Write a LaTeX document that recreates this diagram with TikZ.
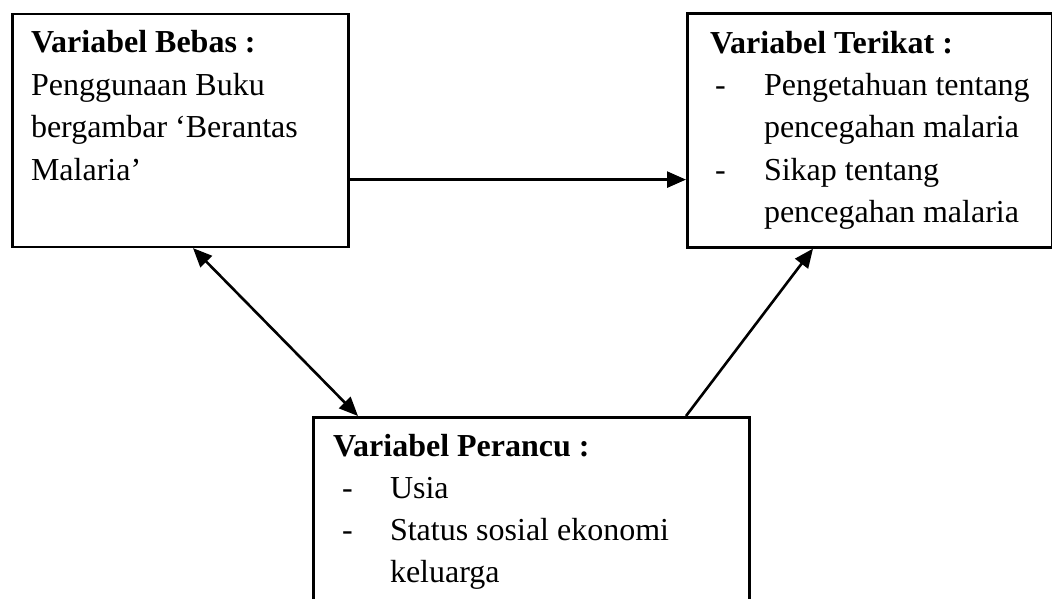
\documentclass[tikz,border=0pt]{standalone}
\usepackage{fontspec}
\setmainfont{Liberation Serif}
\usetikzlibrary{arrows.meta}
\tikzset{
  box/.style={draw=black, line width=2.6pt, fill=none, inner sep=0pt, anchor=north west},
  txt/.style={inner sep=0pt, outer sep=0pt, anchor=base west, font=\fontsize{32}{38}\selectfont},
  tip/.style={Triangle[length=19pt,width=16pt]},
  arr/.style={line width=2.6pt, -{Triangle[length=19pt,width=16pt]}},
  darr/.style={line width=2.6pt, {Triangle[length=19pt,width=16pt]}-{Triangle[length=19pt,width=16pt]}}
}
\begin{document}
\begin{tikzpicture}[x=1pt,y=-1pt]
\useasboundingbox (0,0) rectangle (1052,598);
\clip (0,0) rectangle (1052,598);
\fill[white] (0,0) rectangle (1052,598);
% boxes
\node[box, minimum width=336pt, minimum height=233pt] (A) at (11,12.5) {};
\node[box, minimum width=365pt, minimum height=234pt] (B) at (686,12) {};
\node[box, minimum width=436pt, minimum height=260pt] (C) at (312,416) {};
% texts A
\node[txt] (a1) at (31,52) {\bfseries Variabel Bebas :};
\node[txt] (a2) at (31,95) {Penggunaan Buku};
\node[txt] (a3) at (31,137) {bergambar ‘Berantas};
\node[txt] (a4) at (31,180) {Malaria’};
% texts B
\node[txt] (b1) at (710,53) {\bfseries Variabel Terikat :};
\node[txt] (b2d) at (715,95) {-};
\node[txt] (b2) at (764,95) {Pengetahuan tentang};
\node[txt] (b3) at (764,137) {pencegahan malaria};
\node[txt] (b4d) at (715,180) {-};
\node[txt] (b4) at (764,180) {Sikap tentang};
\node[txt] (b5) at (764,222) {pencegahan malaria};
% texts C
\node[txt] (c1) at (333,456) {\bfseries Variabel Perancu :};
\node[txt] (c2d) at (342,498) {-};
\node[txt] (c2) at (390,498) {Usia};
\node[txt] (c3d) at (342,540) {-};
\node[txt] (c3) at (390,540) {Status sosial ekonomi};
\node[txt] (c4) at (390,582) {keluarga};
% connectors
\coordinate (h1) at ([yshift=68.5pt]A.south east);
\draw[arr] (h1) -- (h1 -| B.west);
\coordinate (d1) at ([xshift=182pt]A.south west);
\coordinate (d2) at ([xshift=46pt]C.north west);
\draw[darr] (d1) -- (d2);
\coordinate (u1) at ([xshift=374pt]C.north west);
\coordinate (u2) at ([xshift=127pt]B.south west);
\draw[arr] (u1) -- (u2);
\end{tikzpicture}
\end{document}
